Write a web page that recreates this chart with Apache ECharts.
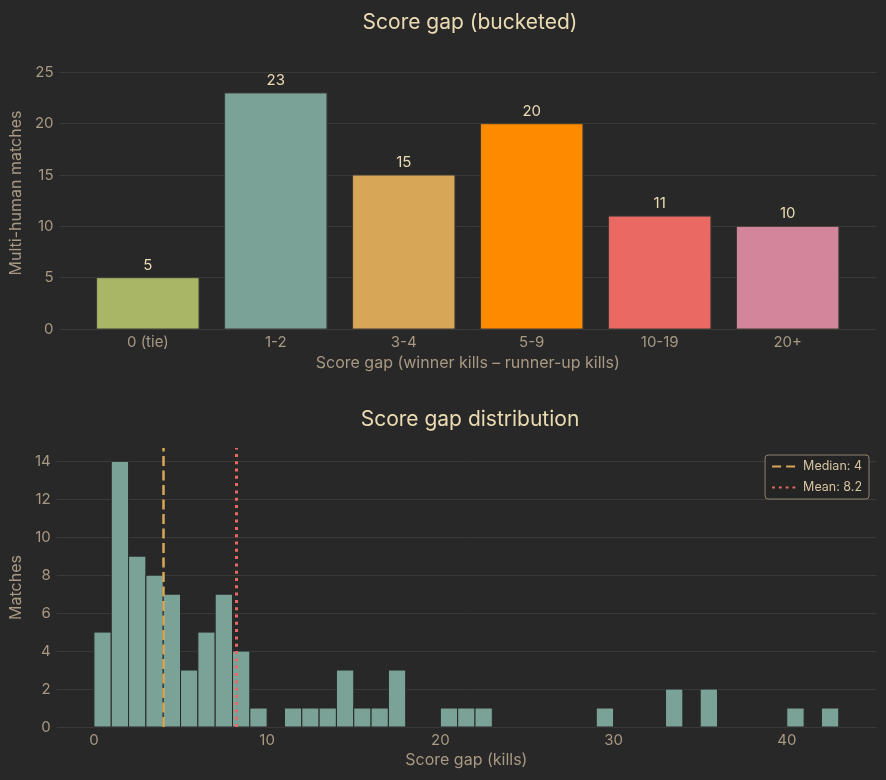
<!DOCTYPE html>
<html>
<head>
<meta charset="utf-8">
<title>Score gap</title>
<script src="https://cdn.jsdelivr.net/npm/echarts@6/dist/echarts.min.js"></script>
<style>
  html, body { margin: 0; padding: 0; background: #282828; }
  #chart-container { width: 886px; height: 780px; }
</style>
</head>
<body>
<div id="chart-container"></div>
<script>
// bucketed chart
var bucketLabels = ["0 (tie)", "1-2", "3-4", "5-9", "10-19", "20+"];
var bucketCounts = [5, 23, 15, 20, 11, 10];
var bucketColors = ["#a9b665", "#7aa296", "#d8a657", "#fe8a00", "#ea6962", "#d3869b"];

// histogram, one bin per kill (bin i covers [i, i+1))
var gapBinCounts = [
  5, 14, 9, 8, 7, 3, 5, 7, 4, 1,
  0, 1, 1, 1, 3, 1, 1, 3, 0, 0,
  1, 1, 1, 0, 0, 0, 0, 0, 0, 1,
  0, 0, 0, 2, 0, 2, 0, 0, 0, 0,
  1, 0, 1
];
var histTicks = [0, 10, 20, 30, 40];
var medianGap = 4;
var meanGap = 8.2;

var BG = "#282828";
var FG = "#ebdbb2";
var MUTED = "#a89984";
var GRIDLINE = "#3c3a36";
var FONT = "Inter, 'Noto Sans', sans-serif";

var dom = document.getElementById("chart-container");
var myChart = echarts.init(dom, null, { renderer: "canvas" });

var bucketData = bucketCounts.map(function (v, i) { return [i, v]; });
var histData = [];
gapBinCounts.forEach(function (c, i) {
  if (c > 0) histData.push([i, c]);
});

var yAxisCommon = {
  type: "value",
  min: 0,
  nameLocation: "middle",
  nameTextStyle: { color: MUTED, fontSize: 16, fontFamily: FONT },
  axisLine: { show: false },
  axisTick: { show: false },
  axisLabel: { color: MUTED, fontSize: 15, fontFamily: FONT, margin: 6, showMaxLabel: false },
  splitLine: { show: true, showMaxLine: false, lineStyle: { color: GRIDLINE, width: 1 } }
};

var option = {
  backgroundColor: BG,
  animation: false,
  textStyle: { fontFamily: FONT },
  title: [
    {
      text: "Score gap (bucketed)",
      left: 465, top: 7, textAlign: "center",
      textStyle: { color: FG, fontSize: 21, fontWeight: "normal", fontFamily: FONT }
    },
    {
      text: "Score gap distribution",
      left: 465, top: 404, textAlign: "center",
      textStyle: { color: FG, fontSize: 21, fontWeight: "normal", fontFamily: FONT }
    }
  ],
  legend: {
    orient: "vertical",
    right: 17,
    top: 455,
    padding: [5, 7, 5, 6],
    itemGap: 8,
    itemWidth: 26,
    itemHeight: 12,
    backgroundColor: "#242424",
    borderColor: "#8f8373",
    borderWidth: 1,
    borderRadius: 3,
    itemStyle: { opacity: 0 },
    textStyle: { color: "#d5c4a1", fontSize: 12.5, fontFamily: FONT },
    data: ["Median: " + medianGap, "Mean: " + meanGap]
  },
  grid: [
    { left: 55, right: 10, top: 57, height: 272 },
    { left: 55, right: 10, top: 448, height: 279 }
  ],
  xAxis: [
    {
      type: "value",
      gridIndex: 0,
      min: -0.69,
      max: 5.69,
      name: "Score gap (winner kills \u2013 runner-up kills)",
      nameLocation: "middle",
      nameGap: 26,
      nameTextStyle: { color: MUTED, fontSize: 16, fontFamily: FONT },
      axisLine: { show: false },
      axisTick: { show: false },
      splitLine: { show: false },
      axisLabel: {
        color: MUTED, fontSize: 15, fontFamily: FONT, margin: 6,
        customValues: [0, 1, 2, 3, 4, 5],
        formatter: function (v) { return bucketLabels[Math.round(v)]; }
      }
    },
    {
      type: "value",
      gridIndex: 1,
      min: -2.15,
      max: 45.15,
      name: "Score gap (kills)",
      nameLocation: "middle",
      nameGap: 25,
      nameTextStyle: { color: MUTED, fontSize: 16, fontFamily: FONT },
      axisLine: { show: false },
      axisTick: { show: false },
      splitLine: { show: false },
      axisLabel: {
        color: MUTED, fontSize: 15, fontFamily: FONT, margin: 6,
        customValues: histTicks
      }
    }
  ],
  yAxis: [
    Object.assign({}, yAxisCommon, {
      gridIndex: 0, max: 26.5, interval: 5,
      name: "Multi-human matches", nameGap: 32
    }),
    Object.assign({}, yAxisCommon, {
      gridIndex: 1, max: 14.7, interval: 2,
      name: "Matches", nameGap: 28
    })
  ],
  series: [
    {
      name: "buckets",
      type: "custom",
      xAxisIndex: 0,
      yAxisIndex: 0,
      data: bucketData,
      renderItem: function (params, api) {
        var i = api.value(0), v = api.value(1);
        var tl = api.coord([i - 0.4, v]);
        var br = api.coord([i + 0.4, 0]);
        return {
          type: "group",
          children: [
            {
              type: "rect",
              shape: { x: tl[0], y: tl[1], width: br[0] - tl[0], height: br[1] - tl[1] },
              style: { fill: bucketColors[i], stroke: "#3a3a36", lineWidth: 1 }
            },
            {
              type: "text",
              style: {
                text: String(v),
                x: (tl[0] + br[0]) / 2,
                y: tl[1] - 5,
                align: "center",
                verticalAlign: "bottom",
                fill: FG,
                font: "15px " + FONT
              }
            }
          ]
        };
      }
    },
    {
      name: "hist",
      type: "custom",
      xAxisIndex: 1,
      yAxisIndex: 1,
      data: histData,
      renderItem: function (params, api) {
        var lo = api.value(0), c = api.value(1);
        var tl = api.coord([lo, c]);
        var br = api.coord([lo + 1, 0]);
        return {
          type: "rect",
          shape: { x: tl[0], y: tl[1], width: br[0] - tl[0], height: br[1] - tl[1] },
          style: { fill: "#7aa296", stroke: BG, lineWidth: 1 }
        };
      }
    },
    {
      name: "Median: " + medianGap,
      type: "line",
      xAxisIndex: 1,
      yAxisIndex: 1,
      symbol: "none",
      data: [],
      itemStyle: { color: "#d8a657", opacity: 0 },
      lineStyle: { color: "#d8a657", width: 2.5, type: [9, 5] },
      markLine: {
        silent: true,
        symbol: ["none", "none"],
        label: { show: false },
        lineStyle: { color: "#d8a657", width: 2.5, type: [10, 4.5], opacity: 1 },
        data: [{ xAxis: medianGap }]
      }
    },
    {
      name: "Mean: " + meanGap,
      type: "line",
      xAxisIndex: 1,
      yAxisIndex: 1,
      symbol: "none",
      data: [],
      itemStyle: { color: "#ea6962", opacity: 0 },
      lineStyle: { color: "#ea6962", width: 2.8, type: [2.8, 4] },
      markLine: {
        silent: true,
        symbol: ["none", "none"],
        label: { show: false },
        lineStyle: { color: "#ea6962", width: 3, type: [3, 4.3], opacity: 1 },
        data: [{ xAxis: meanGap }]
      }
    }
  ]
};

myChart.setOption(option);
window.addEventListener("resize", myChart.resize);
</script>
</body>
</html>
